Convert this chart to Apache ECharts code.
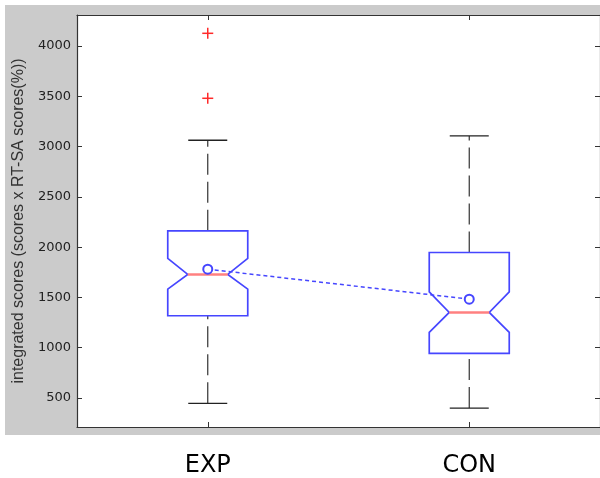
<!DOCTYPE html>
<html>
<head>
<meta charset="utf-8">
<script src="https://cdn.jsdelivr.net/npm/echarts@6/dist/echarts.min.js"></script>
<style>
  html, body { margin: 0; padding: 0; background: #fff; }
  #main { width: 600px; height: 478px; }
</style>
</head>
<body>
<div id="main"></div>
<script>
// 数据
var categories = ["EXP", "CON"];
var whiskerLow = [447, 400];
var q1 = [1318, 944];
var notchLow = [1583, 1153];
var median = [1729, 1351];
var notchHigh = [1888, 1556];
var q3 = [2162, 1947];
var whiskerHigh = [3063, 3106];
var means = [1781, 1483];
var outlierGroup = [1, 1];
var outlierValues = [4126, 3480];
var yTicks = [500, 1000, 1500, 2000, 2500, 3000, 3500, 4000];
var xTicks = [1, 2];

var boxData = categories.map(function (c, i) {
  return [i + 1, whiskerLow[i], q1[i], notchLow[i], median[i], notchHigh[i], q3[i], whiskerHigh[i]];
});
var meanData = categories.map(function (c, i) { return [i + 1, means[i]]; });
var outlierData = outlierValues.map(function (v, i) { return [outlierGroup[i], v]; });

var blue = "#4646ff";
var axisColor = "#333";

function renderBox (params, api) {
  var x = api.value(0);
  var y = function (k) { return api.coord([x, api.value(k)])[1]; };
  var cx = api.coord([x, api.value(4)])[0];
  var yWL = y(1), yQ1 = y(2), yNL = y(3), yMed = y(4), yNH = y(5), yQ3 = y(6), yWH = y(7);
  var bw = 40, nw = 20, cw = 19.5;
  var dash = { stroke: axisColor, lineWidth: 1.2, lineDash: [21, 7] };
  var cap = { stroke: "#222", lineWidth: 1.3 };
  return {
    type: "group",
    children: [
      { type: "line", shape: { x1: cx, y1: yQ3, x2: cx, y2: yWH }, style: dash },
      { type: "line", shape: { x1: cx, y1: yWL, x2: cx, y2: yQ1 }, style: dash },
      { type: "line", shape: { x1: cx - cw, y1: yWH, x2: cx + cw, y2: yWH }, style: cap },
      { type: "line", shape: { x1: cx - cw, y1: yWL, x2: cx + cw, y2: yWL }, style: cap },
      {
        type: "polygon",
        shape: {
          points: [
            [cx - bw, yQ3], [cx + bw, yQ3], [cx + bw, yNH], [cx + nw, yMed],
            [cx + bw, yNL], [cx + bw, yQ1], [cx - bw, yQ1], [cx - bw, yNL],
            [cx - nw, yMed], [cx - bw, yNH]
          ]
        },
        style: { fill: "none", stroke: blue, lineWidth: 1.7 }
      },
      { type: "line", shape: { x1: cx - nw, y1: yMed, x2: cx + nw, y2: yMed }, style: { stroke: "#ff8080", lineWidth: 2.5 } }
    ]
  };
}

function renderPlus (params, api) {
  var p = api.coord([api.value(0), api.value(1)]);
  var s = 5.5;
  var st = { stroke: "#ff2a2a", lineWidth: 1.5 };
  return {
    type: "group",
    children: [
      { type: "line", shape: { x1: p[0] - s, y1: p[1], x2: p[0] + s, y2: p[1] }, style: st },
      { type: "line", shape: { x1: p[0], y1: p[1] - s, x2: p[0], y2: p[1] + s }, style: st }
    ]
  };
}

var xBase = {
  type: "value",
  min: 0.5,
  max: 2.5,
  splitLine: { show: false },
  axisLine: { show: true, onZero: false, lineStyle: { color: axisColor, width: 1.2 } },
  axisTick: { show: true, inside: true, length: 5, customValues: xTicks, lineStyle: { color: axisColor } }
};
var yBase = {
  type: "value",
  min: 212,
  max: 4308,
  splitLine: { show: false },
  axisLine: { show: true, onZero: false, lineStyle: { color: axisColor, width: 1.2 } },
  axisTick: { show: true, inside: true, length: 5, customValues: yTicks, lineStyle: { color: axisColor } }
};

var myChart = echarts.init(document.getElementById("main"));
myChart.setOption({
  animation: false,
  backgroundColor: "#fff",
  graphic: [
    { type: "rect", z: -10, shape: { x: 5, y: 5, width: 600, height: 430 }, style: { fill: "#cbcbcb" } }
  ],
  grid: {
    left: 77,
    right: 0,
    top: 15,
    bottom: 50,
    show: true,
    backgroundColor: "#fff",
    borderWidth: 0
  },
  xAxis: [
    Object.assign({}, xBase, {
      position: "bottom",
      axisLabel: {
        customValues: xTicks,
        margin: 27,
        fontFamily: "DejaVu Sans",
        fontSize: 24,
        color: "#000",
        formatter: function (v) { return categories[Math.round(v) - 1]; }
      }
    }),
    Object.assign({}, xBase, { position: "top", axisLabel: { show: false } })
  ],
  yAxis: [
    Object.assign({}, yBase, {
      position: "left",
      name: "integrated scores (scores x RT-SA scores(%))",
      nameLocation: "middle",
      nameGap: 49,
      nameTextStyle: { fontFamily: "Liberation Sans", fontSize: 16, color: "#333" },
      axisLabel: {
        customValues: yTicks,
        margin: 6,
        fontFamily: "DejaVu Sans",
        fontSize: 13,
        color: "#222",
        formatter: function (v) { return String(v); }
      }
    }),
    Object.assign({}, yBase, { position: "right", axisLabel: { show: false } })
  ],
  series: [
    {
      type: "custom",
      renderItem: renderBox,
      data: boxData,
      encode: { x: 0, y: [1, 2, 3, 4, 5, 6, 7] },
      z: 2
    },
    {
      type: "custom",
      renderItem: renderPlus,
      data: outlierData,
      encode: { x: 0, y: 1 },
      z: 3
    },
    {
      type: "line",
      data: meanData,
      symbol: "emptyCircle",
      symbolSize: 9,
      itemStyle: { color: blue, borderWidth: 1.3 },
      lineStyle: { color: blue, width: 1.5, type: [4, 3] },
      z: 4
    }
  ]
});
</script>
</body>
</html>
